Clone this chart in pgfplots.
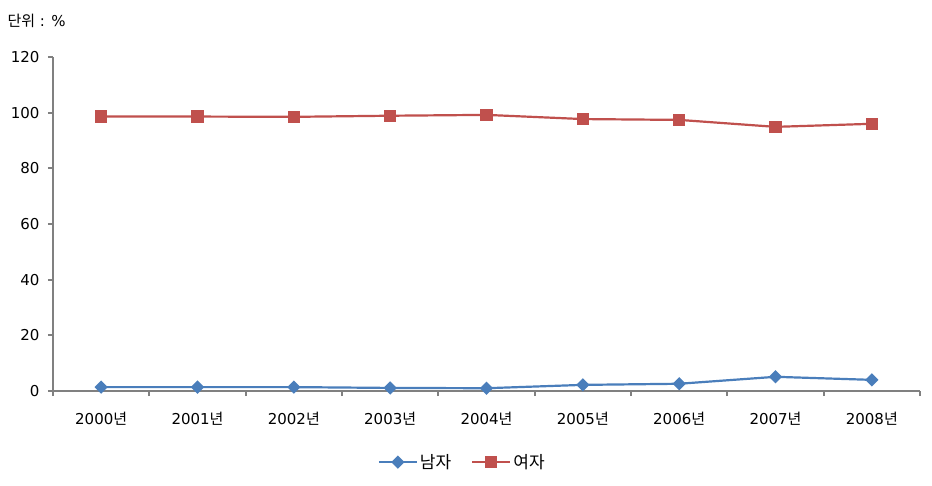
\documentclass[border=0pt]{standalone}
\usepackage{fontspec}
\setmainfont{DejaVu Sans}
\newfontfamily\kr{Noto Sans CJK KR}
\usepackage{pgfplots}
\pgfplotsset{compat=1.18}
\definecolor{malecol}{RGB}{74,126,187}
\definecolor{femcol}{RGB}{192,80,77}
\definecolor{axcol}{RGB}{128,128,128}
\begin{document}
\begin{tikzpicture}
\path[use as bounding box] (-53bp,-95bp) rectangle (879bp,391bp);
\begin{axis}[
  at={(0,0)}, anchor=south west,
  scale only axis,
  width=867bp, height=334bp,
  xmin=-0.5, xmax=8.5,
  ymin=0, ymax=120,
  axis x line*=bottom, axis y line*=left,
  axis line style={draw=axcol, line width=1.8bp, -},
  xtick={0,...,8},
  xticklabels={2000{\kr 년},2001{\kr 년},2002{\kr 년},2003{\kr 년},2004{\kr 년},2005{\kr 년},2006{\kr 년},2007{\kr 년},2008{\kr 년}},
  minor xtick={-0.5,0.5,...,8.5},
  major x tick style={draw=none},
  minor x tick style={draw=axcol, line width=1.8bp},
  ytick={0,20,...,120},
  y tick style={draw=axcol, line width=1.8bp},
  tick align=outside,
  major tick length=5bp, minor tick length=5bp,
  tick label style={font=\fontsize{15bp}{17bp}\selectfont},
  xticklabel style={yshift=-13bp},
  yticklabel style={xshift=-5bp},
  /pgf/number format/assume math mode=true,
  clip=false,
  legend columns=2,
  legend style={at={(0.472,-0.213)}, anchor=center, draw=none, fill=none,
    font=\kr\fontsize{17bp}{19bp}\selectfont,
    /tikz/every even column/.append style={column sep=18bp}},
  legend image code/.code={\draw[mark repeat=2,mark phase=2,#1] plot coordinates {(0bp,0bp) (19bp,0bp) (38bp,0bp)};},
]
\addplot[color=malecol, line width=2.2bp, mark=square*, mark size=3.6bp, mark options={fill=malecol, rotate=45}]
  coordinates {(0,1.4) (1,1.4) (2,1.4) (3,1.1) (4,1.0) (5,2.2) (6,2.6) (7,5.1) (8,4.0)};
\addplot[color=femcol, line width=2.2bp, mark=square*, mark size=5bp, mark options={fill=femcol}]
  coordinates {(0,98.6) (1,98.6) (2,98.5) (3,98.9) (4,99.2) (5,97.7) (6,97.4) (7,94.9) (8,96.0)};
\legend{남자,여자}
\end{axis}
\node[anchor=base west, font=\fontsize{15bp}{17bp}\selectfont] at (-49bp,364bp) {{\kr 단위} : \%};
\end{tikzpicture}
\end{document}
